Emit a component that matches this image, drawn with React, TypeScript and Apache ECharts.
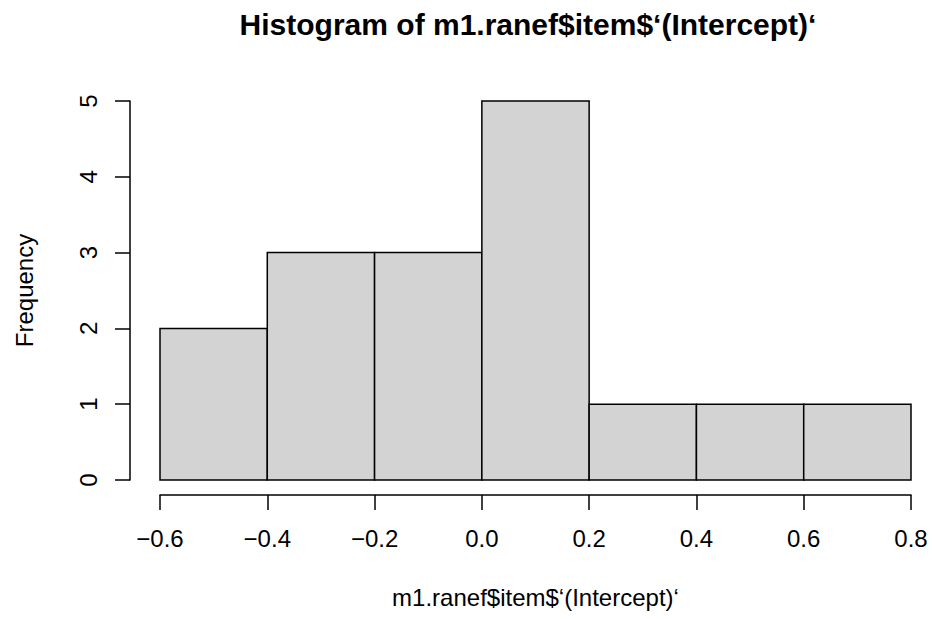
import React, { useEffect, useRef } from "react";
import * as echarts from "echarts";

const titleText = "Histogram of m1.ranef$item$‘(Intercept)‘";
const xAxisTitle = "m1.ranef$item$‘(Intercept)‘";
const yAxisTitle = "Frequency";

const binStarts = [-0.6, -0.4, -0.2, 0.0, 0.2, 0.4, 0.6];
const binEnds = [-0.4, -0.2, 0.0, 0.2, 0.4, 0.6, 0.8];
const counts = [2, 3, 3, 5, 1, 1, 1];

const xTickLabels = ["−0.6", "−0.4", "−0.2", "0.0", "0.2", "0.4", "0.6", "0.8"];
const yTickLabels = ["0", "1", "2", "3", "4", "5"];

const FONT = "'Liberation Sans', Arial, Helvetica, sans-serif";

export default function App() {
  const ref = useRef<HTMLDivElement>(null);

  useEffect(() => {
    if (!ref.current) return;
    const chart = echarts.init(ref.current, null, { renderer: "svg" });
    const xMin = -0.6;
    const xStep = 0.2;
    const data = binStarts.map((s, i) => [s, binEnds[i], counts[i]]);
    const option: any = {
      animation: false,
      backgroundColor: "#ffffff",
      title: {
        text: titleText,
        left: 528,
        top: 9,
        textAlign: "center",
        padding: 0,
        textStyle: {
          fontFamily: FONT,
          fontWeight: "bold",
          fontSize: 30,
          color: "#000",
        },
      },
      grid: { left: 160, right: 21, top: 101, bottom: 139, containLabel: false },
      xAxis: {
        type: "value",
        min: xMin,
        max: 0.8,
        interval: xStep,
        offset: 15,
        name: xAxisTitle,
        nameLocation: "middle",
        nameGap: 90,
        nameTextStyle: { fontFamily: FONT, fontSize: 24, color: "#000" },
        axisLine: { show: true, onZero: false, lineStyle: { color: "#000", width: 1.5 } },
        axisTick: { show: true, inside: false, length: 15, lineStyle: { color: "#000", width: 1.5 } },
        axisLabel: {
          margin: 31,
          fontFamily: FONT,
          fontSize: 24,
          color: "#000",
          formatter: (v: number) => xTickLabels[Math.round((v - xMin) / xStep)] ?? "",
        },
        splitLine: { show: false },
      },
      yAxis: {
        type: "value",
        min: 0,
        max: 5,
        interval: 1,
        offset: 30,
        name: yAxisTitle,
        nameLocation: "middle",
        nameGap: 94,
        nameRotate: 90,
        nameTextStyle: { fontFamily: FONT, fontSize: 24, color: "#000" },
        axisLine: { show: true, onZero: false, lineStyle: { color: "#000", width: 1.5 } },
        axisTick: { show: true, inside: false, length: 15, lineStyle: { color: "#000", width: 1.5 } },
        axisLabel: {
          margin: 30,
          rotate: 90,
          fontFamily: FONT,
          fontSize: 24,
          color: "#000",
          formatter: (v: number) => yTickLabels[Math.round(v)] ?? "",
        },
        splitLine: { show: false },
      },
      series: [
        {
          type: "custom",
          data,
          renderItem: (params: any, api: any) => {
            const x0 = api.value(0);
            const x1 = api.value(1);
            const c = api.value(2);
            const p0 = api.coord([x0, c]);
            const p1 = api.coord([x1, 0]);
            return {
              type: "rect",
              shape: { x: p0[0], y: p0[1], width: p1[0] - p0[0], height: p1[1] - p0[1] },
              style: { fill: "#D3D3D3", stroke: "#000", lineWidth: 1.5 },
            };
          },
        },
      ],
    };
    chart.setOption(option);
    return () => chart.dispose();
  }, []);

  return (
    <div
      ref={ref}
      style={{ position: "fixed", left: 0, top: 0, width: 932, height: 619, background: "#fff" }}
    />
  );
}
